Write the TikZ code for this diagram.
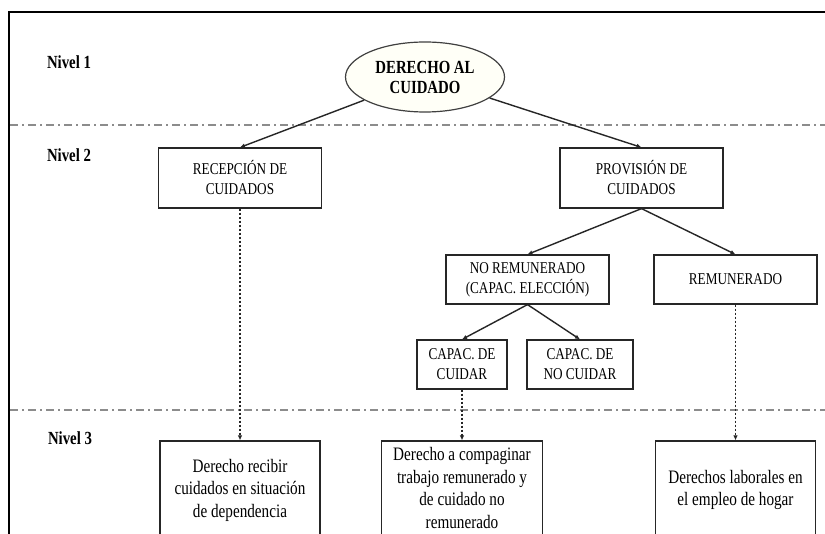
\documentclass[tikz,border=0pt]{standalone}
\usepackage{fontspec}
\setmainfont[FakeStretch=0.8]{Liberation Serif}
\usetikzlibrary{shapes.geometric,arrows.meta}

\begin{document}
\begin{tikzpicture}[x=1pt,y=-1pt,
    caja/.style={draw=black!85, line width=1.2pt, fill=white, inner sep=0pt, align=center, font=\fontsize{16.5}{20}\selectfont},
    grande/.style={caja, font=\fontsize{19}{22.5}\selectfont},
    nivel/.style={font=\bfseries\fontsize{18.5}{22}\selectfont},
    flecha/.style={line width=1.4pt, black!85, -{Latex[length=5pt,width=4.5pt]}},
    punteada/.style={flecha, line width=1.1pt, dash pattern=on 2.5pt off 1.5pt},
    separador/.style={line width=1.8pt, black!45, dash pattern=on 8pt off 4pt on 2pt off 4pt}]

    % Size of the figure
    \clip (0,0) rectangle (825,534);
    \fill[white] (0,0) rectangle (825,534);

    % Frame
    \draw[line width=2.2pt] (9,540) -- (9,12) -- (830,12);

    % Lines between the levels
    \draw[separador] (10,125) -- (825,125);
    \draw[separador] (10,410) -- (825,410);

    % Labels of the levels
    \node[nivel] (n1) at (69,62) {Nivel 1};
    \node[nivel] (n2) at (69,155) {Nivel 2};
    \node[nivel] (n3) at (70,438) {Nivel 3};

    % Level 1
    \node[ellipse, draw=black!75, line width=1.2pt, fill=yellow!3, minimum width=159pt, minimum height=70pt,
          inner sep=0pt, align=center, font=\bfseries\fontsize{18.5}{20}\selectfont] (dc) at (425,77) {DERECHO AL\\CUIDADO};

    % Level 2
    \node[caja, minimum width=163pt, minimum height=60pt] (rec) at (240,178) {RECEPCIÓN DE\\CUIDADOS};
    \node[caja, minimum width=163pt, minimum height=60pt] (prov) at (641.5,178) {PROVISIÓN DE\\CUIDADOS};
    \node[caja, minimum width=163pt, minimum height=49pt] (norem) at (527.5,279.5) {NO REMUNERADO\\(CAPAC. ELECCIÓN)};
    \node[caja, minimum width=163pt, minimum height=49pt] (rem) at (735.5,279.5) {REMUNERADO};
    \node[caja, minimum width=90pt, minimum height=49pt] (cuidar) at (462,364.5) {CAPAC. DE\\CUIDAR};
    \node[caja, minimum width=106pt, minimum height=49pt] (nocuidar) at (580,364.5) {CAPAC. DE\\NO CUIDAR};

    % Level 3
    \node[grande, minimum width=160pt, minimum height=98pt] (dep) at (240,490) {Derecho recibir\\cuidados en situación\\de dependencia};
    \node[grande, minimum width=161pt, minimum height=94pt] (comp) at (462,488) {Derecho a compaginar\\trabajo remunerado y\\de cuidado no\\remunerado};
    \node[grande, minimum width=160pt, minimum height=98pt] (hogar) at (735.5,490) {Derechos laborales en\\el empleo de hogar};

    % Connectors
    \draw[flecha] (dc) -- (rec.north);
    \draw[flecha] (dc) -- (prov.north);
    \draw[flecha] (prov.south) -- (norem.north);
    \draw[flecha] (prov.south) -- (rem.north);
    \draw[flecha] (norem.south) -- (cuidar.north);
    \draw[flecha] (norem.south) -- (nocuidar.north);

    % Dotted connectors to level 3
    \draw[punteada] (rec.south) -- (dep.north);
    \draw[punteada] (cuidar.south) -- (comp.north);
    \draw[punteada] (rem.south) -- (hogar.north);
\end{tikzpicture}
\end{document}
